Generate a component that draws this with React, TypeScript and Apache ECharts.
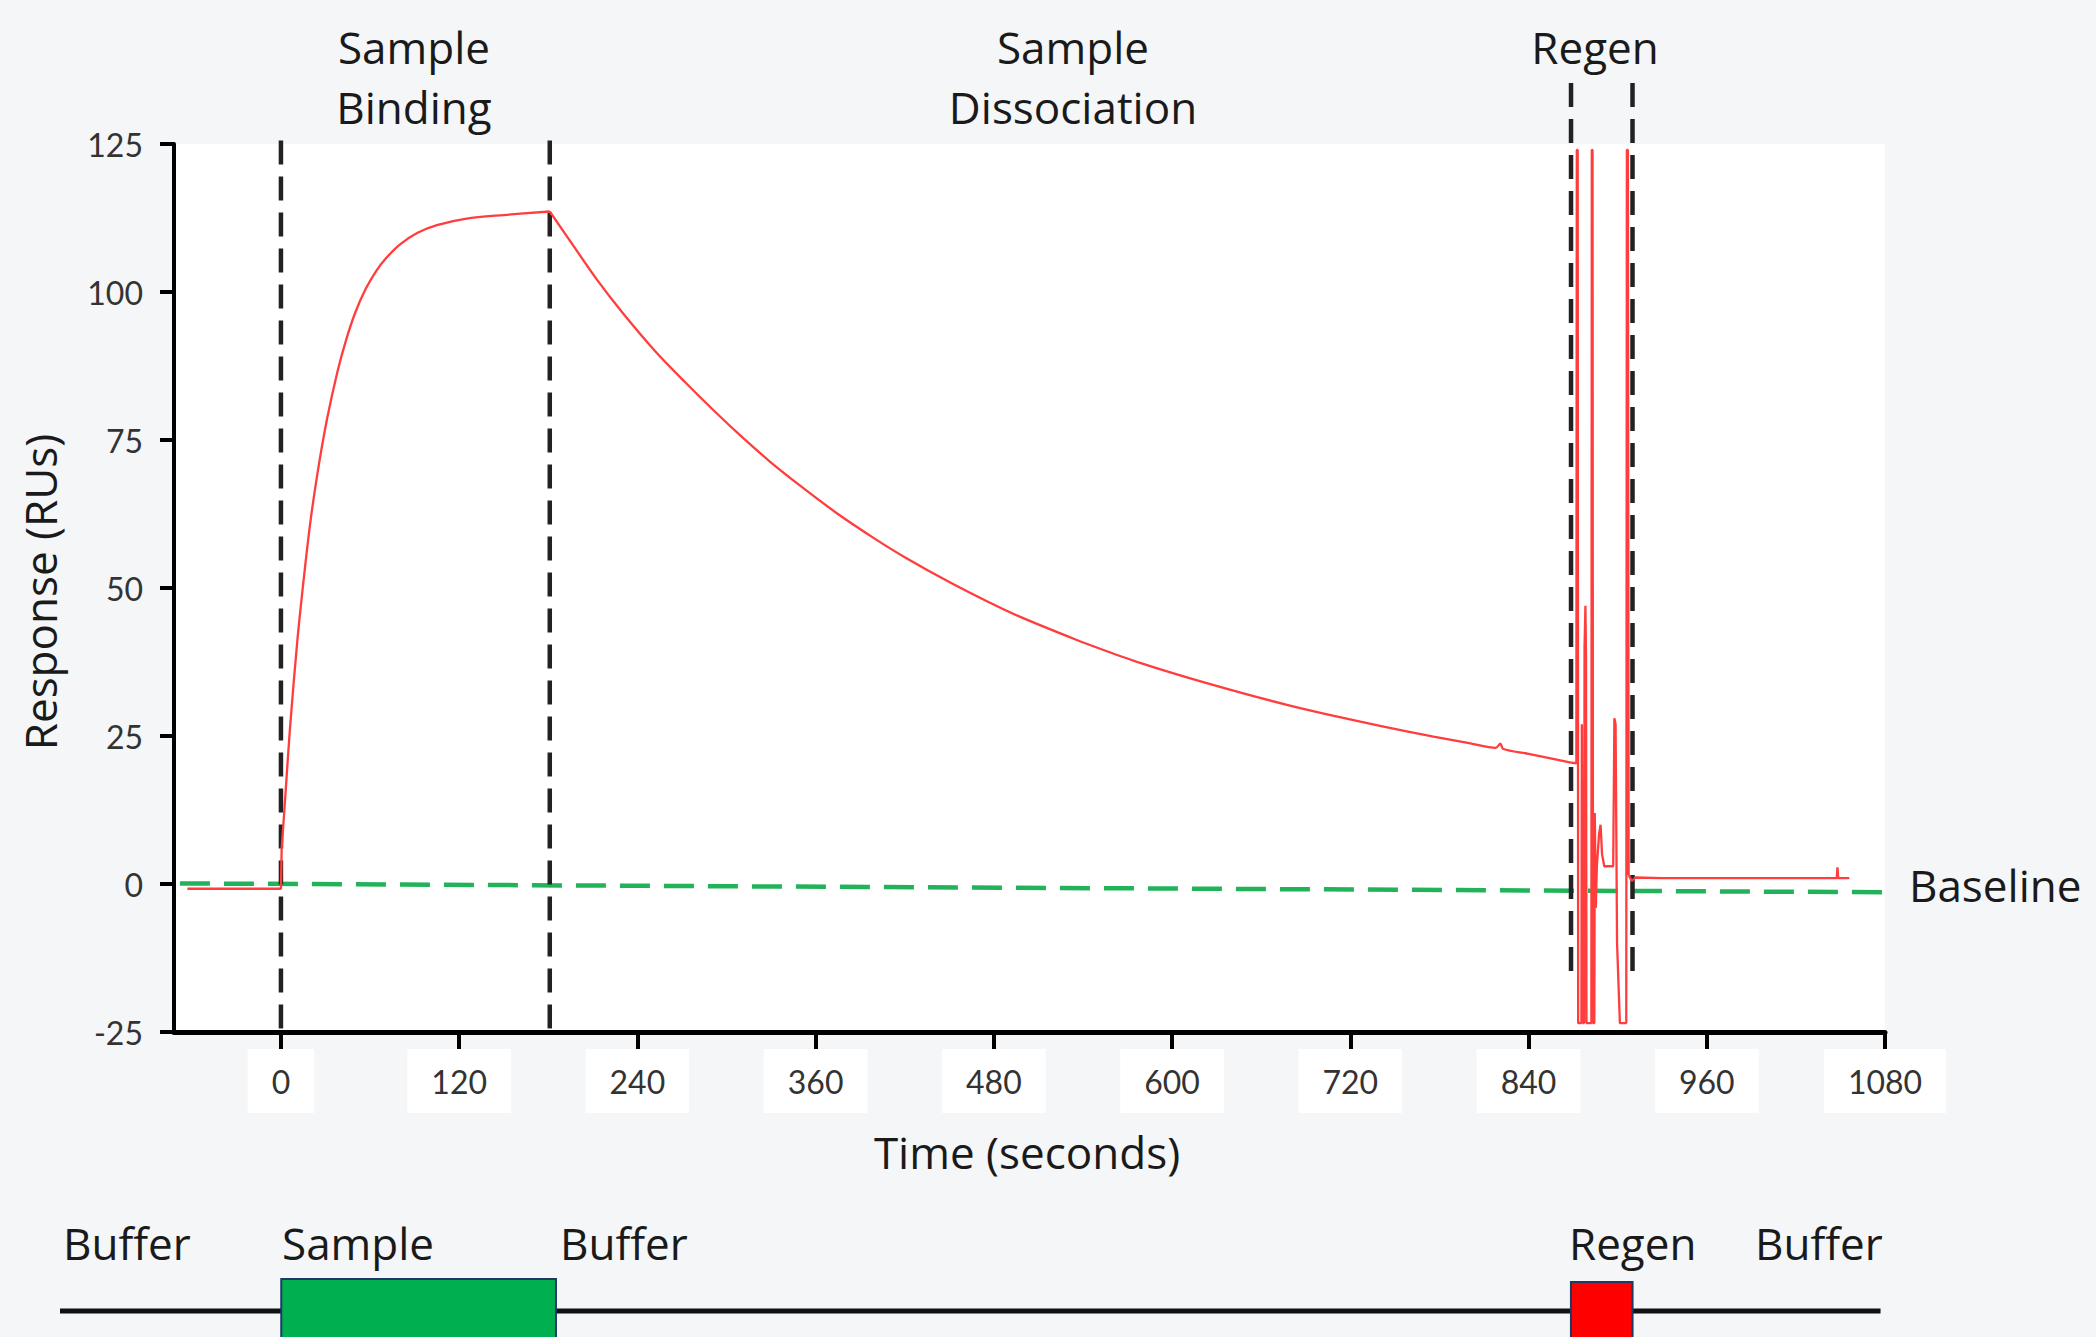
import React, { useEffect, useRef } from 'react';
import * as echarts from 'echarts';

// ---------- data ----------
const timeTicks = [0, 120, 240, 360, 480, 600, 720, 840, 960, 1080];

const preInjection: [number, number][] = [[-63, -0.8], [-30, -0.8], [0, -0.8], [0.5, 6]];

const association: [number, number][] = [
  [0.5, 6], [3, 15], [6, 26], [11, 41], [16, 53], [20, 61.5], [25, 70], [31, 78.5],
  [38, 86.5], [44, 92], [50, 96.5], [57, 100.5], [64, 103.5], [70, 105.5], [80, 108],
  [92, 110], [105, 111.3], [125, 112.4], [150, 113], [181, 113.6],
];

const dissociation: [number, number][] = [
  [181, 113.6], [195, 108.5], [213, 102], [230, 96.5], [252, 90], [272, 84.8], [293, 79.6],
  [310, 75.6], [329, 71.4], [350, 67.2], [375, 62.5], [400, 58.3], [420, 55.2], [450, 51.0],
  [475, 47.8], [497, 45.2], [535, 41.3], [552, 39.7], [579, 37.3], [610, 34.9], [648, 32.2],
  [680, 30.1], [709, 28.4], [740, 26.7], [776, 24.9], [800, 23.8], [818, 23.0],
  [821, 23.7], [823, 22.8], [840, 22.0], [868.6, 20.5],
];

const regeneration: [number, number][] = [
  [868.6, 20.5], [872.2, 20.4], [872.5, 124], [873.1, 124], [873.4, -23.5], [875.6, -23.5],
  [875.9, 27], [876.3, 27], [876.6, -23.5], [877.4, -23.5], [877.7, 40], [878.3, 47],
  [878.7, 38], [879.0, -23.5], [882.3, -23.5], [882.6, 124], [883.1, 124], [883.4, -23.5],
  [884.3, -23.5], [884.6, 12], [885.3, -4], [886.0, 3], [887.5, 8.5], [888.5, 10],
  [889.5, 5], [891, 3], [894.5, 3], [897, 3], [897.8, 28], [898.6, 27], [899.6, -10],
  [901.5, -23.5], [905.8, -23.5], [906.2, 124], [906.9, 124], [907.4, 1.5],
];

const postRegen: [number, number][] = [
  [907.4, 1.5], [909.5, 0.5], [912, 1.1], [930, 1.0], [1000, 1.0], [1047.5, 1.0], [1048, 2.8],
  [1048.5, 1.0], [1056, 1.0],
];

const baseline: [number, number][] = [[-68, 0.1], [1082, -1.4]];

const phaseMarkers = [0, 181];
const phaseMarkerRange = [-24.4, 126.9];
const regenMarkers = [868.6, 910];
const regenMarkerRange = [-14.7, 135.5];

// bottom timeline strip
const timelineLine: [number, number][] = [[-149, 0.45], [1077, 0.45]];
const phaseBoxes: [number, number, number][] = [[0, 185, 1], [868.5, 910, 0.95]];
const boxColors = ['#00b050', '#ff0000'];

const headerLabels = ['Sample', 'Binding', 'Sample', 'Dissociation', 'Regen'];
const stripLabels = ['Buffer', 'Sample', 'Buffer', 'Regen', 'Buffer'];

const RED = '#ff3d3d';

export default function App() {
  const ref = useRef<HTMLDivElement>(null);
  useEffect(() => {
    const chart = echarts.init(ref.current!, null, { renderer: 'svg' });
    const dashed = (x: number, range: number[], name: string) => ({
      name,
      type: 'line',
      data: [[x, range[0]], [x, range[1]]],
      showSymbol: false,
      clip: false,
      silent: true,
      z: 2,
      lineStyle: { color: '#222', width: 4.5, type: [24, 12] },
    });
    const redLine = (name: string, data: [number, number][], smooth: number | boolean) => ({
      name, type: 'line', data, showSymbol: false, z: 3, smooth,
      lineStyle: { color: RED, width: 2.3 },
    });
    const textFont = { fontFamily: 'Open Sans', fontSize: 44, fill: '#1a1a1a' };
    const t = (text: string, x: number, y: number, align = 'center', extra: any = {}) => ({
      type: 'text', x, y, ...extra, style: { ...textFont, text, align, verticalAlign: 'middle' },
    });
    const option: any = {
      animation: false,
      backgroundColor: '#f4f6f8',
      grid: [
        { left: 174, right: 211, top: 144, bottom: 305, show: true, backgroundColor: '#ffffff', borderWidth: 0 },
        { left: 60, right: 211, top: 1279, height: 58 },
      ],
      xAxis: [
        {
          type: 'value', min: -72, max: 1080, gridIndex: 0,
          axisLine: { onZero: false, lineStyle: { color: '#000', width: 5 } },
          axisTick: { customValues: timeTicks, length: 18, lineStyle: { color: '#000', width: 4 } },
          axisLabel: {
            customValues: timeTicks, margin: 17, padding: [16, 24], backgroundColor: '#ffffff',
            fontSize: 32, fontFamily: 'Lato', color: '#333', formatter: (v: number) => String(v),
          },
          splitLine: { show: false },
        },
        { type: 'value', min: -149, max: 1080, gridIndex: 1, show: false },
      ],
      yAxis: [
        {
          type: 'value', min: -25, max: 125, interval: 25, gridIndex: 0,
          axisLine: { show: true, onZero: false, lineStyle: { color: '#000', width: 4 } },
          axisTick: { show: true, length: 14, lineStyle: { color: '#000', width: 4 } },
          axisLabel: { margin: 31, fontSize: 32, fontFamily: 'Lato', color: '#333' },
          splitLine: { show: false },
        },
        { type: 'value', min: 0, max: 1, gridIndex: 1, show: false },
      ],
      series: [
        {
          name: 'Baseline', type: 'line', data: baseline, showSymbol: false, clip: false, silent: true, z: 2,
          lineStyle: { color: '#22b35a', width: 4.5, type: [30, 14] },
        },
        ...phaseMarkers.map((x, i) => dashed(x, phaseMarkerRange, 'phase' + i)),
        ...regenMarkers.map((x, i) => dashed(x, regenMarkerRange, 'regen' + i)),
        redLine('pre-injection', preInjection, false),
        redLine('association', association, 0.3),
        redLine('dissociation', dissociation, 0.3),
        redLine('regeneration', regeneration, false),
        redLine('post-regeneration', postRegen, false),
        {
          name: 'timeline', type: 'line', xAxisIndex: 1, yAxisIndex: 1, data: timelineLine,
          showSymbol: false, clip: false, silent: true, z: 1,
          lineStyle: { color: '#111', width: 5 },
        },
        {
          name: 'phases', type: 'custom', xAxisIndex: 1, yAxisIndex: 1, data: phaseBoxes, z: 4, clip: false,
          encode: { x: [0, 1], y: 2 },
          renderItem: (params: any, api: any) => {
            const p0 = api.coord([api.value(0), api.value(2)]);
            const p1 = api.coord([api.value(1), 0]);
            return {
              type: 'rect',
              shape: { x: p0[0], y: p0[1], width: p1[0] - p0[0], height: p1[1] - p0[1] + 20 },
              style: { fill: boxColors[params.dataIndex], stroke: '#1f3864', lineWidth: 2 },
            };
          },
        },
      ],
      graphic: [
        t(headerLabels[0], 414, 47),
        t(headerLabels[1], 414, 107),
        t(headerLabels[2], 1073, 47),
        t(headerLabels[3], 1073, 107),
        t(headerLabels[4], 1595, 47),
        t('Baseline', 1909, 885, 'left'),
        t('Time (seconds)', 1027, 1152),
        t('Response (RUs)', 40, 592, 'center', { rotation: Math.PI / 2 }),
        t(stripLabels[0], 63, 1243, 'left'),
        t(stripLabels[1], 282, 1243, 'left'),
        t(stripLabels[2], 560, 1243, 'left'),
        t(stripLabels[3], 1569, 1243, 'left'),
        t(stripLabels[4], 1755, 1243, 'left'),
      ],
    };
    chart.setOption(option);
    return () => chart.dispose();
  }, []);
  return <div ref={ref} style={{ position: 'fixed', left: 0, top: 0, width: 2096, height: 1337 }} />;
}
